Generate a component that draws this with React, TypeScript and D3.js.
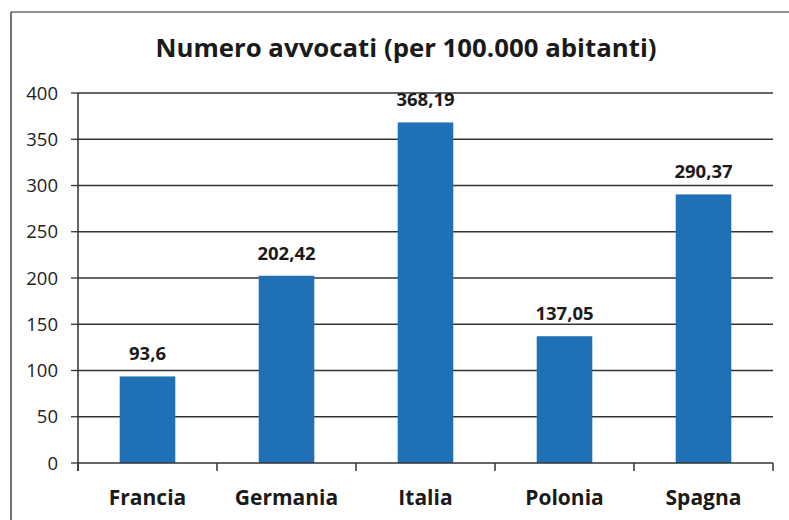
import React from "react";
import * as d3 from "d3";

const categories = ["Francia", "Germania", "Italia", "Polonia", "Spagna"];
const values = [93.6, 202.42, 368.19, 137.05, 290.37];
const valueLabels = ["93,6", "202,42", "368,19", "137,05", "290,37"];
const yTicks = [0, 50, 100, 150, 200, 250, 300, 350, 400];
const title = "Numero avvocati (per 100.000 abitanti)";

const W = 789;
const H = 520;
const FONT = "'Open Sans', Lato, sans-serif";

export default function App() {
  const left = 78, right = 773, top = 93, bottom = 463;
  const x = d3.scaleBand<string>().domain(categories).range([left, right]).paddingInner(0.6).paddingOuter(0.3);
  const y = d3.scaleLinear().domain([0, 400]).range([bottom, top]);
  const step = x.step();
  const boundaries = d3.range(categories.length + 1).map((i) => left + i * step);

  return (
    <svg width={W} height={H} style={{ position: "absolute", left: 0, top: 0, background: "#fff" }}>
      <rect x={0} y={0} width={W} height={H} fill="#fff" />
      {/* frame */}
      <line x1={11} y1={12} x2={W} y2={12} stroke="#6b6b6b" strokeWidth={1.5} />
      <line x1={11} y1={12} x2={11} y2={H} stroke="#444" strokeWidth={1.5} />
      {/* title */}
      <text x={406} y={57} textAnchor="middle" fontFamily={FONT} fontWeight={700} fontSize={25.8} fill="#1a1a1a">
        {title}
      </text>
      {/* gridlines */}
      {yTicks.filter((t) => t > 0).map((t) => (
        <line key={"g" + t} x1={left} x2={right} y1={y(t)} y2={y(t)} stroke="#333" strokeWidth={1.3} />
      ))}
      {/* bars */}
      {categories.map((c, i) => (
        <rect key={c} x={x(c)} y={y(values[i])} width={x.bandwidth()} height={bottom - y(values[i])} fill="#1f70b4" />
      ))}
      {/* y axis */}
      <line x1={left} x2={left} y1={top} y2={bottom + 8} stroke="#333" strokeWidth={1.5} />
      {yTicks.map((t) => (
        <g key={"t" + t}>
          <line x1={left - 7} x2={left} y1={y(t)} y2={y(t)} stroke="#333" strokeWidth={1.3} />
          <text x={58} y={y(t)} dy="0.36em" textAnchor="end" fontFamily={FONT} fontSize={18.5} fill="#222">
            {t}
          </text>
        </g>
      ))}
      {/* x axis */}
      <line x1={left} x2={right} y1={bottom} y2={bottom} stroke="#333" strokeWidth={1.5} />
      {boundaries.map((b, i) => (
        <line key={"xb" + i} x1={b} x2={b} y1={bottom} y2={bottom + 8} stroke="#333" strokeWidth={1.5} />
      ))}
      {categories.map((c) => (
        <text key={"l" + c} x={(x(c) as number) + x.bandwidth() / 2} y={505} textAnchor="middle" fontFamily={FONT} fontWeight={700} fontSize={21} fill="#1a1a1a">
          {c}
        </text>
      ))}
      {/* value labels */}
      {categories.map((c, i) => (
        <text key={"v" + c} x={(x(c) as number) + x.bandwidth() / 2} y={y(values[i]) - 16} textAnchor="middle" fontFamily={FONT} fontWeight={700} fontSize={18.5} fill="#1a1a1a">
          {valueLabels[i]}
        </text>
      ))}
    </svg>
  );
}
